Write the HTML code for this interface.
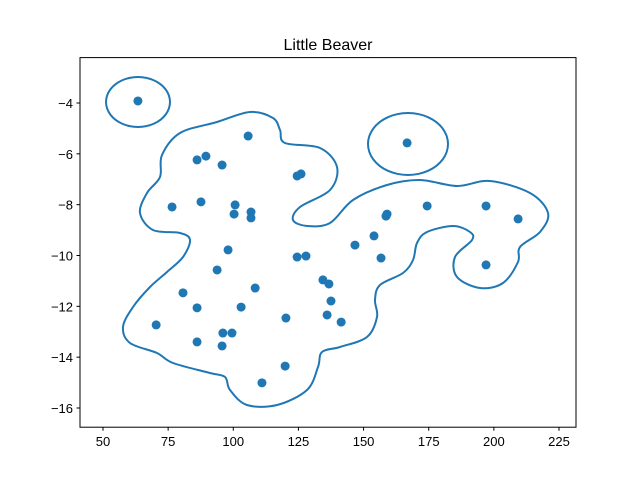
<!DOCTYPE html>
<html><head><meta charset="utf-8"><style>
body{margin:0;background:#fff}
svg{display:block;font-family:"Liberation Sans","DejaVu Sans",sans-serif}
</style></head><body>
<svg id="chart" width="640" height="480" viewBox="0 0 640 480">
<rect width="640" height="480" fill="#fff"/>
<text x="328" y="50" text-anchor="middle" font-size="16">Little Beaver</text>
<g id="contours" fill="none" stroke="#1f77b4" stroke-width="2"></g>
<g id="points"></g>
<g id="xaxis"></g>
<g id="yaxis"></g>
<rect x="80" y="57.6" width="496" height="369.6" fill="none" stroke="#000" stroke-width="1"/>
</svg>
<script>
const xTicks=[50,75,100,125,150,175,200,225];
const yTicks=[-4,-6,-8,-10,-12,-14,-16];
const xs=[63.4,166.7,105.7,86.1,89.5,95.7,124.5,126,76.5,87.6,100.7,100.3,106.8,106.8,158.6,159,174.4,197,209.3,98,124.5,127.9,146.7,154,156.7,197,93.8,108.4,80.7,134.4,136.7,137.5,86.1,103,120.2,136,141.4,70.4,96,99.5,86.1,95.7,119.9,111];
const ys=[-3.92,-5.57,-5.3,-6.24,-6.09,-6.44,-6.87,-6.79,-8.09,-7.89,-8.01,-8.37,-8.29,-8.52,-8.45,-8.37,-8.05,-8.05,-8.56,-9.78,-10.06,-10.02,-9.59,-9.23,-10.1,-10.37,-10.57,-11.28,-11.47,-10.96,-11.12,-11.79,-12.06,-12.03,-12.46,-12.34,-12.62,-12.73,-13.05,-13.05,-13.4,-13.56,-14.35,-15.01];
const NS='http://www.w3.org/2000/svg';
function X(v){return 103+(v-50)*(559-103)/175;}
function Y(v){return 103+(-4-v)*(408-103)/12;}
function IX(p){return 50+(p-103)*175/(559-103);}
function IY(p){return -4-(p-103)*12/(408-103);}
const xa=document.getElementById('xaxis'),ya=document.getElementById('yaxis');
xTicks.forEach(t=>{
 const l=document.createElementNS(NS,'line');
 
 
 l.setAttribute('x1',X(t));l.setAttribute('x2',X(t));l.setAttribute('y1',427.2);l.setAttribute('y2',430.7);l.setAttribute('stroke','#000');xa.appendChild(l);
 const tx=document.createElementNS(NS,'text');
 
 
 tx.setAttribute('x',X(t));tx.setAttribute('y',446);tx.setAttribute('text-anchor','middle');tx.setAttribute('font-size','13');tx.textContent=t;xa.appendChild(tx);
});
yTicks.forEach(t=>{
 const l=document.createElementNS(NS,'line');
 
 
 l.setAttribute('x1',76.5);l.setAttribute('x2',80);l.setAttribute('y1',Y(t));l.setAttribute('y2',Y(t));l.setAttribute('stroke','#000');ya.appendChild(l);
 const tx=document.createElementNS(NS,'text');
 
 
 tx.setAttribute('x',73);tx.setAttribute('y',Y(t)+5);tx.setAttribute('text-anchor','end');tx.setAttribute('font-size','13');tx.textContent='\u2212'+Math.abs(t);ya.appendChild(tx);
});
const pg=document.getElementById('points');
xs.forEach((v,i)=>{
 const c=document.createElementNS(NS,'circle');
 
 
 c.setAttribute('cx',X(v));c.setAttribute('cy',Y(ys[i]));c.setAttribute('r',4.5);c.setAttribute('fill','#1f77b4');pg.appendChild(c);
});
// contour outlines traced in pixel space, converted to data units, then re-mapped via axes
const bigPx=[[162,155],[180,133],[217,122],[250,112],[273,118],[280,130],[285,143],[320,148],[337,167],[330,190],[300,207],[293,220],[307,226],[330,223],[353,200],[387,185],[420,180],[457,186],[490,181],[530,193],[548,213],[540,232],[520,247],[518,262],[503,283],[480,288],[457,277],[455,257],[472,240],[470,232],[453,226],[427,232],[417,243],[413,260],[403,273],[380,285],[375,300],[377,317],[367,337],[340,347],[322,352],[318,367],[307,390],[277,405],[247,405],[230,390],[225,377],[210,373],[173,363],[157,353],[130,343],[123,327],[133,307],[150,287],[167,272],[183,257],[190,240],[180,233],[153,230],[140,213],[147,193],[160,177]];
const bigX=bigPx.map(p=>IX(p[0])),bigY=bigPx.map(p=>IY(p[1]));
function ellipse(cx,cy,rx,ry,n){const a=[];for(let i=0;i<n;i++){const t=i/n*2*Math.PI;a.push([cx+rx*Math.cos(t),cy+ry*Math.sin(t)]);}return a;}
const e1=ellipse(138,102,32,25,24),e2=ellipse(408,144,40,31,24);
const cg=document.getElementById('contours');
function smooth(pts){
 const n=pts.length;let d='M'+pts[0][0]+','+pts[0][1];
 for(let i=0;i<n;i++){
  const p0=pts[(i-1+n)%n],p1=pts[i],p2=pts[(i+1)%n],p3=pts[(i+2)%n];
  const c1=[p1[0]+(p2[0]-p0[0])/6,p1[1]+(p2[1]-p0[1])/6];
  const c2=[p2[0]-(p3[0]-p1[0])/6,p2[1]-(p3[1]-p1[1])/6];
  d+=' C'+c1[0]+','+c1[1]+' '+c2[0]+','+c2[1]+' '+p2[0]+','+p2[1];
 }
 return d+'Z';
}
[[bigX.map((v,i)=>[X(v),Y(bigY[i])]),'contour-main'],[e1,'contour-left'],[e2,'contour-right']].forEach(([pts,nm])=>{
 const p=document.createElementNS(NS,'path');
 
 
 p.setAttribute('d',smooth(pts));cg.appendChild(p);
});
</script>
</body></html>
